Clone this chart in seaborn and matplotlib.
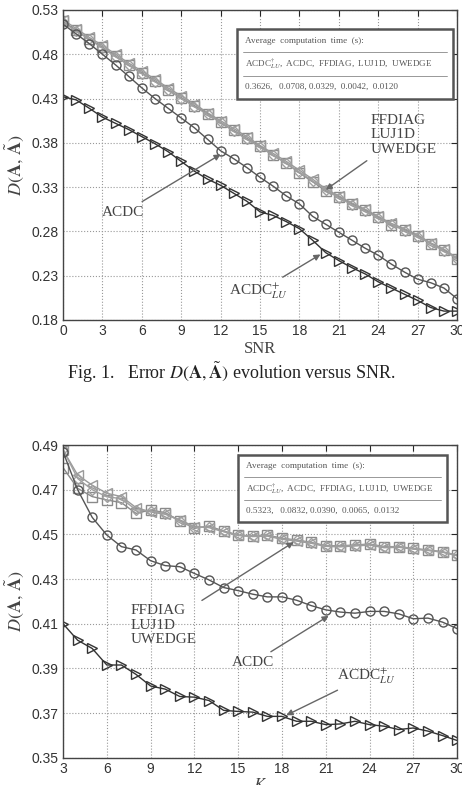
import numpy as np
import pandas as pd
import seaborn as sns
import matplotlib.pyplot as plt
from matplotlib.patches import Rectangle

# ---- data: error vs SNR (top) ----
snr = np.arange(0, 31)
top_acdc_lu = [0.432, 0.4285, 0.419, 0.409, 0.402, 0.395, 0.387, 0.379, 0.370, 0.359, 0.348,
               0.339, 0.332, 0.323, 0.314, 0.302, 0.298, 0.291, 0.283, 0.270, 0.256,
               0.247, 0.239, 0.232, 0.223, 0.216, 0.209, 0.202, 0.194, 0.190, 0.190]
top_acdc = [0.514, 0.503, 0.492, 0.480, 0.468, 0.455, 0.442, 0.430, 0.419, 0.408, 0.397,
            0.384, 0.371, 0.362, 0.352, 0.341, 0.331, 0.320, 0.311, 0.297, 0.288,
            0.279, 0.270, 0.261, 0.253, 0.243, 0.234, 0.226, 0.222, 0.216, 0.204]
top_ffdiag = [0.517, 0.507, 0.497, 0.488, 0.478, 0.468, 0.459, 0.450, 0.440, 0.431, 0.422,
              0.413, 0.403, 0.394, 0.385, 0.376, 0.366, 0.357, 0.346, 0.336, 0.326,
              0.319, 0.311, 0.304, 0.296, 0.287, 0.282, 0.275, 0.266, 0.259, 0.249]
top_luj1d = [0.519, 0.509, 0.499, 0.490, 0.480, 0.470, 0.461, 0.452, 0.442, 0.433, 0.424,
             0.414, 0.405, 0.396, 0.387, 0.377, 0.368, 0.359, 0.349, 0.339, 0.328,
             0.320, 0.312, 0.305, 0.297, 0.289, 0.283, 0.276, 0.267, 0.260, 0.250]
top_uwedge = [0.516, 0.506, 0.497, 0.487, 0.477, 0.468, 0.458, 0.449, 0.440, 0.430, 0.421,
              0.412, 0.403, 0.393, 0.384, 0.375, 0.366, 0.357, 0.347, 0.337, 0.327,
              0.318, 0.310, 0.303, 0.295, 0.288, 0.281, 0.274, 0.266, 0.258, 0.249]
top_times = "0.3626,   0.0708, 0.0329,  0.0042,  0.0120"

# ---- data: error vs K (bottom) ----
k = np.arange(3, 31)
bot_acdc_lu = [0.410, 0.4026, 0.3989, 0.3915, 0.3915, 0.3873, 0.3821, 0.3807, 0.3774, 0.3771,
               0.3756, 0.3712, 0.3707, 0.3704, 0.3685, 0.3685, 0.3663, 0.3663, 0.3648, 0.3651,
               0.3663, 0.3648, 0.3641, 0.3626, 0.3633, 0.3619, 0.3599, 0.3577]
bot_acdc = [0.487, 0.470, 0.4576, 0.4497, 0.4445, 0.443, 0.4382, 0.436, 0.4355, 0.4325,
            0.4296, 0.4262, 0.4248, 0.4232, 0.4220, 0.4220, 0.4205, 0.4181, 0.4162, 0.4152,
            0.4147, 0.4155, 0.4155, 0.4144, 0.4122, 0.4125, 0.4107, 0.4078]
bot_ffdiag = [0.4799, 0.4706, 0.4669, 0.4654, 0.4642, 0.4594, 0.4609, 0.4597, 0.4561, 0.4527,
              0.4537, 0.4515, 0.4497, 0.4493, 0.4497, 0.4482, 0.4475, 0.4464, 0.4449, 0.4449,
              0.4452, 0.4457, 0.4445, 0.4445, 0.4437, 0.4430, 0.4422, 0.4407]
bot_luj1d = [0.4878, 0.4766, 0.4720, 0.4684, 0.4669, 0.4620, 0.4600, 0.4590, 0.4565, 0.4535,
             0.4530, 0.4512, 0.4495, 0.4490, 0.4492, 0.4478, 0.4470, 0.4460, 0.4446, 0.4444,
             0.4448, 0.4452, 0.4440, 0.4442, 0.4434, 0.4428, 0.4420, 0.4404]
bot_uwedge = [0.4880, 0.4750, 0.4700, 0.4668, 0.4660, 0.4610, 0.4605, 0.4593, 0.4560, 0.4530,
              0.4533, 0.4513, 0.4496, 0.4492, 0.4495, 0.4480, 0.4473, 0.4462, 0.4448, 0.4447,
              0.4450, 0.4455, 0.4443, 0.4444, 0.4436, 0.4429, 0.4421, 0.4406]
bot_times = "0.5323,   0.0832, 0.0390,  0.0065,  0.0132"

sns.set_style("white")
plt.rcParams["font.family"] = ["Liberation Sans", "DejaVu Sans"]
plt.rcParams["mathtext.fontset"] = "stix"

serif = "Liberation Serif"
txt_col = "#444444"

styles = [
    ("FFDIAG", "s", "#8a8a8a"),
    ("LUJ1D", "<", "#9a9a9a"),
    ("UWEDGE", "D", "#a0a0a0"),
    ("ACDC", "o", "#555555"),
    ("ACDC_LU", ">", "#333333"),
]


def draw(ax, x, series):
    for (name, mk, col), y in zip(styles, series):
        ms = 5.5 if mk == "D" else 6.5
        sns.lineplot(x=x, y=y, ax=ax, color=col, marker=mk, markersize=ms,
                     markerfacecolor="none", markeredgecolor=col, markeredgewidth=1.0,
                     linewidth=1.0, legend=False)


def style_axes(ax, xt, yt, ylim, xlim):
    ax.set_xlim(*xlim)
    ax.set_ylim(*ylim)
    ax.set_xticks(xt)
    ax.set_yticks(yt)
    ax.set_yticklabels([f"{v:.2f}" for v in yt])
    ax.grid(True, linestyle=":", color="#999999", linewidth=0.8)
    ax.tick_params(direction="in", top=True, right=True, length=4,
                   labelsize=10, labelcolor="#333333", pad=3)
    for s in ax.spines.values():
        s.set_color("#444444")
        s.set_linewidth(1.0)
    ax.set_ylabel(r"$D(\mathbf{A},\,\tilde{\mathbf{A}})$", fontsize=13, color=txt_col, labelpad=2)


def time_box(ax, x0, x1, y0, y1, times):
    ax.add_patch(Rectangle((x0, y0), x1 - x0, y1 - y0, transform=ax.transAxes,
                           facecolor="white", edgecolor="#555555", linewidth=1.8, zorder=5))
    h = (y1 - y0) / 3
    for i in (1, 2):
        yy = y1 - i * h
        ax.plot([x0 + 0.015, x1 - 0.015], [yy, yy], transform=ax.transAxes,
                color="#888888", linewidth=0.6, zorder=6)
    lines = ["Average  computation  time  (s):",
             r"ACDC$^{\dagger}_{LU}$,  ACDC,  FFDIAG,  LUJ1D,  UWEDGE",
             times]
    for i, t in enumerate(lines):
        ax.text(x0 + 0.02, y1 - (i + 0.5) * h, t, transform=ax.transAxes,
                fontsize=6.6, family=serif, color="#555555", va="center", ha="left", zorder=7)


fig = plt.figure(figsize=(4.62, 7.85), dpi=100)

# top panel
ax1 = fig.add_axes([0.1364, 0.5924, 0.853, 0.3949])
draw(ax1, snr, [top_ffdiag, top_luj1d, top_uwedge, top_acdc, top_acdc_lu])
style_axes(ax1, np.arange(0, 31, 3), np.arange(0.18, 0.531, 0.05), (0.18, 0.53), (0, 30))
ax1.set_xlabel("SNR", fontsize=12, family=serif, color=txt_col, labelpad=2)
ax1.yaxis.set_label_coords(-0.095, 0.5)
time_box(ax1, 0.442, 0.99, 0.713, 0.939, top_times)

arrow = dict(arrowstyle="-|>", color="#666666", lw=1.0, shrinkA=2, shrinkB=0, mutation_scale=9)
ax1.annotate("FFDIAG\nLUJ1D\nUWEDGE", xy=(20, 0.327), xytext=(23.4, 0.389),
             fontsize=11, family=serif, color=txt_col, va="center", ha="left",
             linespacing=1.15, arrowprops=arrow)
ax1.annotate("ACDC", xy=(12, 0.367), xytext=(4.6, 0.301), fontsize=11, family=serif,
             color=txt_col, va="center", ha="center", arrowprops=arrow)
ax1.annotate(r"ACDC$^{+}_{LU}$", xy=(19.6, 0.254), xytext=(14.9, 0.212), fontsize=11,
             family=serif, color=txt_col, va="center", ha="center", arrowprops=arrow)

# caption
fig.text(0.5, 0.5255, r"Fig. 1.   Error $D(\mathbf{A},\tilde{\mathbf{A}})$ evolution versus SNR.",
         fontsize=13, family=serif, color="#222222", ha="center", va="center")

# bottom panel
ax2 = fig.add_axes([0.1364, 0.0348, 0.853, 0.3983])
draw(ax2, k, [bot_ffdiag, bot_luj1d, bot_uwedge, bot_acdc, bot_acdc_lu])
style_axes(ax2, np.arange(3, 31, 3), np.arange(0.35, 0.491, 0.02), (0.35, 0.49), (3, 30))
ax2.set_xlabel(r"$K$", fontsize=12, color=txt_col, labelpad=1)
ax2.yaxis.set_label_coords(-0.095, 0.5)
time_box(ax2, 0.444, 0.975, 0.754, 0.968, bot_times)

ax2.annotate("FFDIAG\nLUJ1D\nUWEDGE", xy=(18.8, 0.4465), xytext=(7.6, 0.4094),
             fontsize=11, family=serif, color=txt_col, va="center", ha="left",
             linespacing=1.15, arrowprops=arrow)
ax2.annotate("ACDC", xy=(21.2, 0.4135), xytext=(16.0, 0.3924), fontsize=11, family=serif,
             color=txt_col, va="center", ha="center", arrowprops=arrow)
ax2.annotate(r"ACDC$^{+}_{LU}$", xy=(18.3, 0.3690), xytext=(23.8, 0.3866), fontsize=11,
             family=serif, color=txt_col, va="center", ha="center", arrowprops=arrow)

fig.savefig("out.png", dpi=100)
